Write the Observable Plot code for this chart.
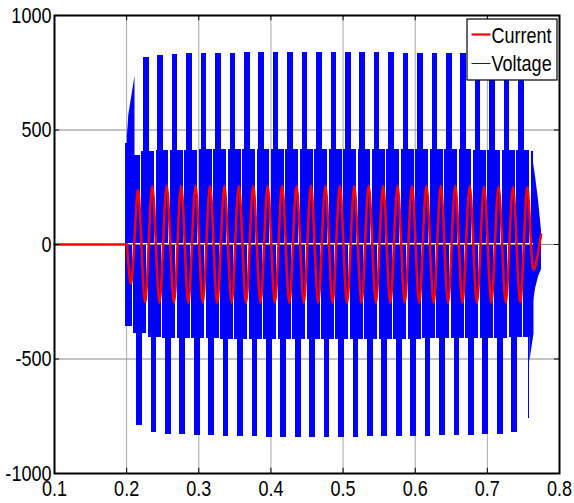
<!DOCTYPE html>
<html><head><meta charset="utf-8">
<script src="https://cdn.jsdelivr.net/npm/d3@7"></script>
<script src="https://cdn.jsdelivr.net/npm/@observablehq/plot@0.6"></script>
<style>
body{margin:0;background:#fff;}
#wrap{position:relative;width:574px;height:503px;overflow:hidden;}
#wrap svg text{font-family:"Liberation Sans",Arial,sans-serif;}
</style></head><body><div id="wrap"></div>
<script>
// ---------- axes ----------
const xTicks = [0.1,0.2,0.3,0.4,0.5,0.6,0.7,0.8];
const yTicks = [1000,500,0,-500,-1000];
const seriesNames = ["Current","Voltage"];
const seriesColors = ["#ff0000","#0000ff"];

const period = 0.02;

// ---------- current ----------
const currentFlatT = [0.1, 0.2005];
const currentFirstExtremeT = 0.2055;
const currentExtremes = [-170,236,-250,255,-254,257,-255,256,-255,257,-254,256,-255,257,-254,256,
  -255,257,-255,256,-254,257,-255,256,-255,257,-254,256,-255,257,-255,256,-254,257,-255,256,
  -255,257,-254,256,-255,257,-255,256,-254,257,-255,256,-255,252,-254,252,-254,250,-252,248,-105];
const currentEndT = 0.7745, currentEndV = 44;

// ---------- voltage ----------
const posPulseT0 = 0.2272;
const posPulsePeak = [818,826,829,832,834,835,836,837,838,838,838,839,839,839,838,838,837,837,836,836,835,834,833,832,830,828,826];
const negPulseT0 = 0.2178;
const negPulsePeak = [-790,-822,-828,-831,-834,-836,-838,-839,-840,-841,-842,-842,-842,-842,-841,-841,-840,-840,-839,-838,-837,-836,-835,-833,-831,-828,-823];
const upBandStartT = 0.2012, upBandEndT = 0.7640, upNotchT0 = 0.2197;
const upBandLevel = [390,405,410,412,412,413,413,414,414,414,415,415,415,415,415,415,415,415,415,414,414,414,413,413,412,412,411,410,405];
const loBandStartT = 0.2003, loBandEndT = 0.7645, loNotchT0 = 0.2091;
const loBandLevel = [-360,-390,-405,-410,-411,-412,-412,-413,-413,-413,-414,-414,-414,-414,-414,-414,-414,-414,-413,-413,-413,-412,-412,-412,-411,-411,-410,-408,-405];
const startSpikeT = [0.1985, 0.2007], startSpikeV = [-360, 440];
const startRampT = [0.2010, 0.2030, 0.2116], startRampV = [470, 565, 735];
const endSpikeT = [0.7570, 0.7590], endSpikeV = -760;
const endWedgeT = [0.7588, 0.7646], endWedgeV = [-514, -390];
const endTailT = [0.7640, 0.7670, 0.7710, 0.7750];
const endTailTop = [357, 290, 190, 61];
const endTailBot = [-250, -190, -140, -110];

// ---------- build tables ----------
const pulseW = 0.0078, notchW = 0.0021, zeroGap = 4;
const rects = [];
posPulsePeak.forEach((v,k)=>{const c=posPulseT0+k*period; rects.push({x1:c-pulseW/2,x2:c+pulseW/2,y1:zeroGap,y2:v});});
negPulsePeak.forEach((v,k)=>{const c=negPulseT0+k*period; rects.push({x1:c-pulseW/2,x2:c+pulseW/2,y1:-zeroGap,y2:v});});
upBandLevel.forEach((v,i)=>{
  const x1 = i===0 ? upBandStartT : upNotchT0+(i-1)*period+notchW/2;
  const x2 = i===upBandLevel.length-1 ? upBandEndT : upNotchT0+i*period-notchW/2;
  rects.push({x1,x2,y1:zeroGap,y2:v});
});
loBandLevel.forEach((v,i)=>{
  const x1 = i===0 ? loBandStartT : loNotchT0+(i-1)*period+notchW/2;
  const x2 = i===loBandLevel.length-1 ? loBandEndT : loNotchT0+i*period-notchW/2;
  rects.push({x1,x2,y1:-zeroGap,y2:v});
});
rects.push({x1:startSpikeT[0],x2:startSpikeT[1],y1:startSpikeV[0],y2:startSpikeV[1]});
rects.push({x1:endSpikeT[0],x2:endSpikeT[1],y1:-zeroGap,y2:endSpikeV});

const ramp = startRampT.map((t,i)=>({t,v:startRampV[i]}));
const wedge = endWedgeT.map((t,i)=>({t,v:endWedgeV[i]}));
const tail = endTailT.map((t,i)=>({t,top:endTailTop[i],bot:endTailBot[i]}));

const curFlat = currentFlatT.map(t=>({t,v:0}));
const curOsc = [{t:currentFirstExtremeT-period/4, v:0}];
currentExtremes.forEach((v,k)=>{
  const t = currentFirstExtremeT + k*period/2;
  curOsc.push({t,v});
  if (k < currentExtremes.length-1) curOsc.push({t:t+period/4, v:0});
});
curOsc.push({t:currentEndT, v:currentEndV});

const blue = seriesColors[1], red = seriesColors[0];
const fmt = d => String(d);

const chart = Plot.plot({
  width: 574, height: 503,
  marginLeft: 54, marginRight: 15, marginTop: 15, marginBottom: 30,
  x: {domain: [0.1, 0.8]},
  y: {domain: [-1000, 1000]},
  style: {fontSize: "22px", color: "#000", background: "#fff", overflow: "visible"},
  marks: [
    Plot.ruleX(xTicks.slice(1,-1), {stroke:"#a8a8a8", strokeWidth:1}),
    Plot.ruleY(yTicks.slice(1,-1), {stroke:"#888", strokeWidth:1}),
    Plot.rect(rects, {x1:"x1", x2:"x2", y1:"y1", y2:"y2", fill: blue, shapeRendering:"crispEdges"}),
    Plot.areaY(ramp, {x:"t", y1: zeroGap, y2:"v", fill: blue}),
    Plot.areaY(wedge, {x:"t", y1: -zeroGap, y2:"v", fill: blue}),
    Plot.areaY(tail, {x:"t", y1:"bot", y2:"top", fill: blue}),
    Plot.line(curFlat, {x:"t", y:"v", stroke: red, strokeWidth: 2.5}),
    Plot.line(curOsc, {x:"t", y:"v", stroke: red, strokeWidth: 2.5, curve:"natural"}),
    Plot.ruleX(xTicks, {y1:-1000, y2:-977, stroke:"#000"}),
    Plot.ruleX(xTicks, {y1:1000, y2:977, stroke:"#000"}),
    Plot.ruleY(yTicks, {x1:0.1, x2:0.107, stroke:"#000"}),
    Plot.ruleY(yTicks, {x1:0.8, x2:0.793, stroke:"#000"}),
    Plot.frame({stroke:"#000", strokeWidth:2}),
    Plot.axisX(xTicks, {tickSize:0, tickPadding:7, tickFormat: d=>d.toFixed(1), label:null}),
    Plot.axisY(yTicks, {tickSize:0, tickPadding:3, tickFormat: fmt, label:null})
  ]
});
const wrap = document.getElementById("wrap");
wrap.appendChild(chart);

// legend (inside the axes, top right)
const ns = "http://www.w3.org/2000/svg";
const lg = document.createElementNS(ns, "svg");
lg.setAttribute("width", 92); lg.setAttribute("height", 63);
lg.style.cssText = "position:absolute;left:466px;top:18px;";
const box = document.createElementNS(ns, "rect");
box.setAttribute("x", 1); box.setAttribute("y", 1); box.setAttribute("width", 90); box.setAttribute("height", 61);
box.setAttribute("fill", "#fff"); box.setAttribute("stroke", "#000"); box.setAttribute("stroke-width", 1.2);
lg.appendChild(box);
const rowsY = [16.5, 45.5], textY = [25.5, 53.5], lw = [2.2, 1];
seriesNames.forEach((name,i)=>{
  const ln = document.createElementNS(ns, "line");
  ln.setAttribute("x1", 5.5); ln.setAttribute("x2", 24.5);
  ln.setAttribute("y1", rowsY[i]); ln.setAttribute("y2", rowsY[i]);
  ln.setAttribute("stroke", seriesColors[i]); ln.setAttribute("stroke-width", lw[i]);
  lg.appendChild(ln);
  const tx = document.createElementNS(ns, "text");
  tx.setAttribute("x", 25.5); tx.setAttribute("y", textY[i]);
  tx.setAttribute("font-size", "22px");
  tx.setAttribute("font-family", "Liberation Sans, Arial, sans-serif");
  tx.textContent = name;
  lg.appendChild(tx);
});
wrap.appendChild(lg);

// condense all texts horizontally (narrow face as in the reference)
const squeeze = 0.82;
wrap.querySelectorAll("svg text").forEach(t => {
  const b = t.getBBox();
  const anchor = getComputedStyle(t).textAnchor;
  const ax = anchor === "end" ? b.x + b.width : anchor === "middle" ? b.x + b.width/2 : b.x;
  const prev = t.getAttribute("transform") || "";
  t.setAttribute("transform", `${prev} translate(${ax},0) scale(${squeeze},1) translate(${-ax},0)`);
});
</script>
</body></html>
